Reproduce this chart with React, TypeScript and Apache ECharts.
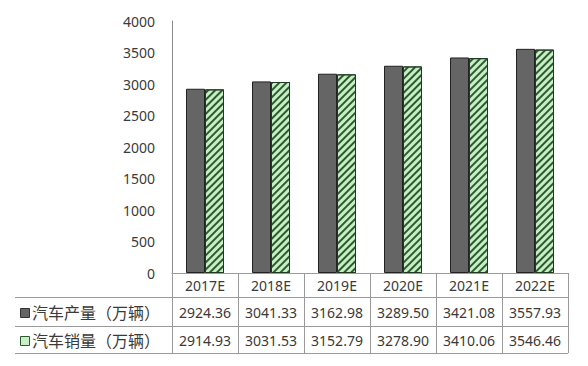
import React, { useEffect, useRef } from "react";
import * as echarts from "echarts";

const categories = ["2017E", "2018E", "2019E", "2020E", "2021E", "2022E"];
const productionName = "汽车产量（万辆）";
const salesName = "汽车销量（万辆）";
const production = [2924.36, 3041.33, 3162.98, 3289.5, 3421.08, 3557.93];
const sales = [2914.93, 3031.53, 3152.79, 3278.9, 3410.06, 3546.46];
const yTicks = { min: 0, max: 4000, interval: 500 };

const GRID_LEFT = 172;
const GRID_TOP = 21;
const GRID_W = 396;
const GRID_H = 252;
const ROW_LINES = [297, 326, 353];
const FONT = "'Noto Sans', 'Noto Sans CJK SC', sans-serif";
const TEXT_COLOR = "#3a3a3a";
const LINE_COLOR = "#9a9a9a";

const GRAY = "#656565";
const GREEN = "#c6efc6";
const STRIPE = "#2f5a2f";

export default function App() {
  const ref = useRef<HTMLDivElement>(null);
  useEffect(() => {
    const chart = echarts.init(ref.current!, undefined, { renderer: "svg" });
    const n = categories.length;
    const colW = GRID_W / n;
    const bottom = GRID_TOP + GRID_H;
    const graphics: any[] = [];
    ROW_LINES.forEach((y) => {
      graphics.push({
        type: "line",
        shape: { x1: 15, y1: y + 0.5, x2: GRID_LEFT + GRID_W, y2: y + 0.5 },
        style: { stroke: LINE_COLOR, lineWidth: 1 },
      });
    });
    for (let i = 0; i <= n; i++) {
      const x = Math.round(GRID_LEFT + colW * i) + 0.5;
      graphics.push({
        type: "line",
        shape: { x1: x, y1: bottom, x2: x, y2: ROW_LINES[2] },
        style: { stroke: LINE_COLOR, lineWidth: 1 },
      });
    }
    const rows = [
      { name: productionName, values: production, fill: GRAY, stroke: "#333" },
      { name: salesName, values: sales, fill: GREEN, stroke: "#2f5a2f" },
    ];
    rows.forEach((r, ri) => {
      const yc = (ROW_LINES[ri] + ROW_LINES[ri + 1]) / 2 + 1;
      graphics.push({
        type: "rect",
        shape: { x: 20.5, y: Math.round(yc - 4.5) + 0.5, width: 9, height: 9 },
        style: { fill: r.fill, stroke: r.stroke, lineWidth: 1 },
      });
      graphics.push({
        type: "text",
        x: 32,
        y: yc,
        style: {
          text: r.name,
          font: `16px ${FONT}`,
          fill: TEXT_COLOR,
          verticalAlign: "middle",
          align: "left",
        },
      });
      r.values.forEach((v, i) => {
        graphics.push({
          type: "text",
          x: GRID_LEFT + colW * (i + 0.5),
          y: yc,
          style: {
            text: v.toFixed(2),
            font: `14px ${FONT}`,
            fill: TEXT_COLOR,
            align: "center",
            verticalAlign: "middle",
          },
        });
      });
    });

    chart.setOption({
      animation: false,
      backgroundColor: "#fff",
      grid: { left: GRID_LEFT, top: GRID_TOP, width: GRID_W, height: GRID_H },
      xAxis: {
        type: "category",
        data: categories,
        axisLine: { show: true, lineStyle: { color: LINE_COLOR, width: 1 } },
        axisTick: { show: false },
        axisLabel: {
          margin: 5,
          fontSize: 14,
          fontFamily: FONT,
          color: TEXT_COLOR,
        },
        splitLine: { show: false },
      },
      yAxis: {
        type: "value",
        min: yTicks.min,
        max: yTicks.max,
        interval: yTicks.interval,
        axisLine: { show: true, lineStyle: { color: "#8a8a8a", width: 1 } },
        axisTick: { show: false },
        splitLine: { show: false },
        axisLabel: {
          margin: 17,
          fontSize: 14,
          fontFamily: FONT,
          color: TEXT_COLOR,
          formatter: (v: number) => String(v),
        },
      },
      series: [
        {
          name: productionName,
          type: "bar",
          data: production,
          barWidth: 19,
          barGap: "0%",
          itemStyle: { color: GRAY, borderColor: "#222", borderWidth: 1 },
        },
        {
          name: salesName,
          type: "bar",
          data: sales,
          barWidth: 19,
          barGap: "0%",
          itemStyle: {
            color: GREEN,
            borderColor: "#1f3a1f",
            borderWidth: 1,
            decal: {
              symbol: "rect",
              symbolSize: 1,
              color: STRIPE,
              dashArrayX: [1, 0],
              dashArrayY: [2, 3],
              rotation: -Math.PI / 4,
            },
          },
        },
      ],
      graphic: graphics,
    });
    return () => chart.dispose();
  }, []);
  return (
    <div
      ref={ref}
      style={{ position: "fixed", left: 0, top: 0, width: 588, height: 366 }}
    />
  );
}
